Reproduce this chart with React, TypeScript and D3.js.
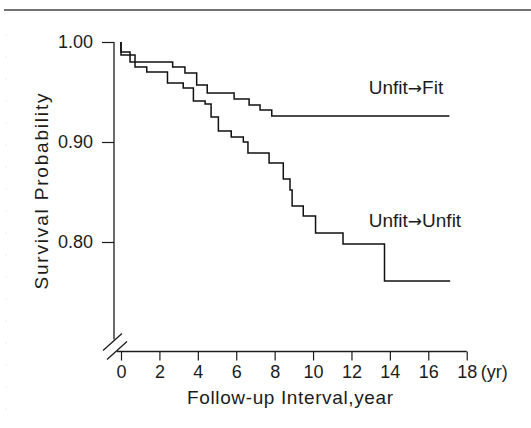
import React, { useEffect, useRef } from "react";
import * as d3 from "d3";

// follow-up years and survival probabilities (Kaplan-Meier steps)
const xTicks = [0, 2, 4, 6, 8, 10, 12, 14, 16, 18];
const yTicks = [0.8, 0.9, 1.0];

const fitYears = [0, 0, 0.47, 2.69, 3.33, 3.94, 4.49, 5.89, 6.67, 7.24, 7.85, 17.1];
const fitSurv = [1.0, 0.99, 0.98, 0.975, 0.969, 0.957, 0.949, 0.943, 0.937, 0.932, 0.926, 0.926];

const unfitYears = [0, 0, 0.73, 1.34, 2.42, 3.24, 3.77, 4.38, 4.69, 5.07, 5.74, 6.37, 6.61, 7.71, 8.45, 8.8, 8.91, 9.49, 10.13, 11.56, 13.72, 17.14];
const unfitSurv = [1.0, 0.987, 0.975, 0.97, 0.959, 0.954, 0.941, 0.938, 0.925, 0.911, 0.905, 0.9, 0.889, 0.879, 0.863, 0.852, 0.836, 0.826, 0.809, 0.798, 0.761, 0.761];

const seriesFrom = ["Unfit", "Unfit"];
const seriesTo = ["Fit", "Unfit"];
const labelAt = [[12.9, 0.948], [12.9, 0.815]];

const App = () => {
	const svgRef = useRef(null);
	const width = 531, height = 428;
	const font = "'Liberation Sans', Arial, sans-serif";
	const ink = "#1c1c1c";

	useEffect(() => {
		const svg = d3.select(svgRef.current);
		svg.selectAll("*").remove();

		const x = d3.scaleLinear().domain([0, 18]).range([121, 466.7]);
		const y = d3.scaleLinear().domain([0.8, 1.0]).range([242, 42]);
		const axisX = 114, axisY = 351.5;

		// frame line at top and faint left edge
		svg.append("line")
			.attr("x1", 4).attr("x2", width).attr("y1", 10).attr("y2", 10)
			.style("stroke", "#444").style("stroke-width", 1.3);
		svg.append("line")
			.attr("x1", 6).attr("x2", 6).attr("y1", 12).attr("y2", height)
			.style("stroke", "#eee").style("stroke-width", 1).style("stroke-dasharray", "2,20");

		// y axis
		const gy = svg.append("g")
			.attr("transform", `translate(${axisX}, 0)`)
			.call(d3.axisLeft(y).tickValues(yTicks).tickSize(12).tickPadding(9).tickFormat(d3.format(".2f")));
		gy.select(".domain").remove();
		gy.selectAll("line").style("stroke", ink).style("stroke-width", 1.2);
		gy.selectAll("text").style("font-family", font).style("font-size", "18px").style("fill", ink);
		svg.append("line")
			.attr("x1", axisX).attr("x2", axisX).attr("y1", y(1.0)).attr("y2", axisY - 12)
			.style("stroke", ink).style("stroke-width", 1.3);

		// x axis
		const gx = svg.append("g")
			.attr("transform", `translate(0, ${axisY})`)
			.call(d3.axisBottom(x).tickValues(xTicks).tickSize(9).tickPadding(5).tickSizeOuter(0));
		gx.select(".domain").remove();
		gx.selectAll("line").style("stroke", ink).style("stroke-width", 1.2);
		gx.selectAll("text").style("font-family", font).style("font-size", "18px").style("fill", ink);
		svg.append("line")
			.attr("x1", x(0) - 4).attr("x2", x(18)).attr("y1", axisY).attr("y2", axisY)
			.style("stroke", ink).style("stroke-width", 1.3);
		svg.append("text")
			.attr("x", x(18) + 14).attr("y", axisY + 26)
			.style("font-family", font).style("font-size", "18px").style("fill", ink)
			.text("(yr)");

		// axis break marks
		svg.append("line")
			.attr("x1", axisX - 11).attr("y1", axisY - 1).attr("x2", axisX + 8).attr("y2", axisY - 18)
			.style("stroke", ink).style("stroke-width", 1.3);
		svg.append("line")
			.attr("x1", axisX - 7).attr("y1", axisY + 8).attr("x2", axisX + 13).attr("y2", axisY - 10)
			.style("stroke", ink).style("stroke-width", 1.3);

		// axis titles
		svg.append("text")
			.attr("x", 290).attr("y", 404)
			.attr("text-anchor", "middle")
			.attr("textLength", 206).attr("lengthAdjust", "spacing")
			.style("font-family", font).style("font-size", "19px").style("fill", ink)
			.text("Follow-up Interval,year");
		svg.append("text")
			.attr("transform", "translate(48, 191.5) rotate(-90)")
			.attr("text-anchor", "middle")
			.attr("textLength", 196).attr("lengthAdjust", "spacing")
			.style("font-family", font).style("font-size", "19px").style("fill", ink)
			.text("Survival Probability");

		// survival curves
		const line = d3.line().x(d => x(d[0])).y(d => y(d[1])).curve(d3.curveStepAfter);
		const series = [
			fitYears.map((t, i) => [t, fitSurv[i]]),
			unfitYears.map((t, i) => [t, unfitSurv[i]])
		];
		svg.append("g")
			.selectAll("path")
			.data(series)
			.join("path")
			.attr("d", d => line(d))
			.style("fill", "none")
			.style("stroke", "#111")
			.style("stroke-width", 1.5);

		// curve labels with an arrow glyph in between
		const labels = svg.append("g")
			.selectAll("text")
			.data(seriesTo)
			.join("text")
			.attr("x", (d, i) => x(labelAt[i][0]))
			.attr("y", (d, i) => y(labelAt[i][1]))
			.style("font-family", font).style("font-size", "19px").style("fill", ink);
		labels.append("tspan").text((d, i) => seriesFrom[i]);
		labels.append("tspan")
			.style("font-family", "'DejaVu Sans', sans-serif").style("font-size", "17px")
			.text("\u2192");
		labels.append("tspan").text(d => d);
	}, []);

	return (
		<svg ref={svgRef} width={width} height={height}
			style={{ position: "absolute", left: 0, top: 0, background: "#fff" }} />
	);
};

export default App;
